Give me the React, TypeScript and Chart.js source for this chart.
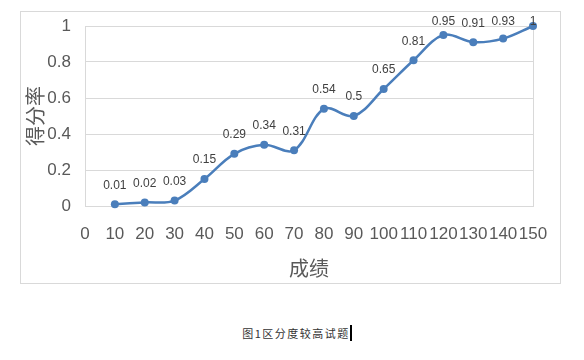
import React, { useEffect, useRef } from "react";
import { Chart, registerables } from "chart.js";

Chart.register(...registerables);

const scores = [10, 20, 30, 40, 50, 60, 70, 80, 90, 100, 110, 120, 130, 140, 150];
const rates = [0.01, 0.02, 0.03, 0.15, 0.29, 0.34, 0.31, 0.54, 0.5, 0.65, 0.81, 0.95, 0.91, 0.93, 1];
const xTitle = "成绩";
const yTitle = "得分率";
const caption = "图1区分度较高试题";

const TICK_FONT = "'Liberation Sans', Arial, sans-serif";
const CJK_FONT = "'Noto Sans CJK SC', 'Noto Sans', sans-serif";

const plotBorder = {
  id: "plotBorder",
  beforeDatasetsDraw(chart: any) {
    const { ctx, chartArea } = chart;
    ctx.save();
    ctx.strokeStyle = "#D9D9D9";
    ctx.lineWidth = 1;
    ctx.strokeRect(
      Math.round(chartArea.left) + 0.5,
      Math.round(chartArea.top) + 0.5,
      Math.round(chartArea.right - chartArea.left),
      Math.round(chartArea.bottom - chartArea.top)
    );
    ctx.restore();
  },
};

const dataLabels = {
  id: "dataLabels",
  afterDatasetsDraw(chart: any) {
    const { ctx, chartArea } = chart;
    const meta = chart.getDatasetMeta(0);
    ctx.save();
    ctx.font = "12px " + TICK_FONT;
    ctx.fillStyle = "#404040";
    ctx.textAlign = "center";
    ctx.textBaseline = "middle";
    meta.data.forEach((pt: any, i: number) => {
      const v = rates[i];
      const y = Math.max(pt.y - 19, chartArea.top - 4);
      ctx.fillText(String(v), pt.x, y);
    });
    ctx.restore();
  },
};

export default function App() {
  const ref = useRef<HTMLCanvasElement | null>(null);

  useEffect(() => {
    if (!ref.current) return;
    const chart = new Chart(ref.current, {
      type: "line",
      data: {
        datasets: [
          {
            data: scores.map((s, i) => ({ x: s, y: rates[i] })),
            borderColor: "#4A7EBB",
            backgroundColor: "#4A7EBB",
            borderWidth: 2.5,
            pointRadius: 4,
            pointBorderWidth: 0,
            pointBackgroundColor: "#4A7EBB",
            tension: 0.35,
            fill: false,
            clip: false as any,
          },
        ],
      },
      options: {
        responsive: false,
        animation: false,
        layout: { padding: { left: 0, right: 27, top: 14, bottom: 0 } },
        plugins: {
          legend: { display: false },
          tooltip: { enabled: false },
        },
        scales: {
          x: {
            type: "linear",
            min: 0,
            max: 150,
            grid: { display: false, drawTicks: false },
            border: { display: false },
            ticks: {
              stepSize: 10,
              autoSkip: false,
              maxRotation: 0,
              padding: 18,
              color: "#595959",
              font: { family: TICK_FONT, size: 17 },
            },
            title: {
              display: true,
              text: xTitle,
              color: "#595959",
              font: { family: CJK_FONT, size: 20 },
              padding: { top: 0, bottom: 3 },
            },
            afterFit(scale: any) {
              scale.height = 77;
              scale.paddingLeft = 0;
              scale.paddingRight = 0;
            },
          },
          y: {
            min: 0,
            max: 1,
            grid: { color: "#D9D9D9", drawTicks: false },
            border: { display: false },
            ticks: {
              stepSize: 0.2,
              padding: 14,
              color: "#595959",
              font: { family: TICK_FONT, size: 17 },
              callback: (v: any) => String(Math.round(Number(v) * 10) / 10),
            },
            title: {
              display: true,
              text: yTitle,
              color: "#595959",
              font: { family: CJK_FONT, size: 20 },
              padding: { top: 2, bottom: 0 },
            },
            afterFit(scale: any) {
              scale.width = 64;
              scale.paddingTop = 0;
              scale.paddingBottom = 0;
            },
          },
        },
      },
      plugins: [plotBorder, dataLabels],
    });
    return () => chart.destroy();
  }, []);

  return (
    <div style={{ position: "absolute", left: 0, top: 0, width: 584, height: 360, background: "#fff" }}>
      <div
        style={{
          position: "absolute",
          left: 20,
          top: 11,
          width: 541,
          height: 273,
          border: "1px solid #D9D9D9",
          boxSizing: "border-box",
        }}
      >
        <canvas ref={ref} width={539} height={271} style={{ display: "block" }} />
      </div>
      <div
        style={{
          position: "absolute",
          left: 0,
          width: 584,
          top: 325,
          textAlign: "center",
          fontFamily: CJK_FONT,
          fontSize: 11,
          color: "#333",
          lineHeight: "16px",
          letterSpacing: "1.5px",
          paddingLeft: 10,
          boxSizing: "border-box",
        }}
      >
        <span>{caption}</span>
        <span
          style={{
            display: "inline-block",
            width: 2,
            height: 16,
            background: "#000",
            verticalAlign: "top",
            marginLeft: 0,
          }}
        />
      </div>
    </div>
  );
}
